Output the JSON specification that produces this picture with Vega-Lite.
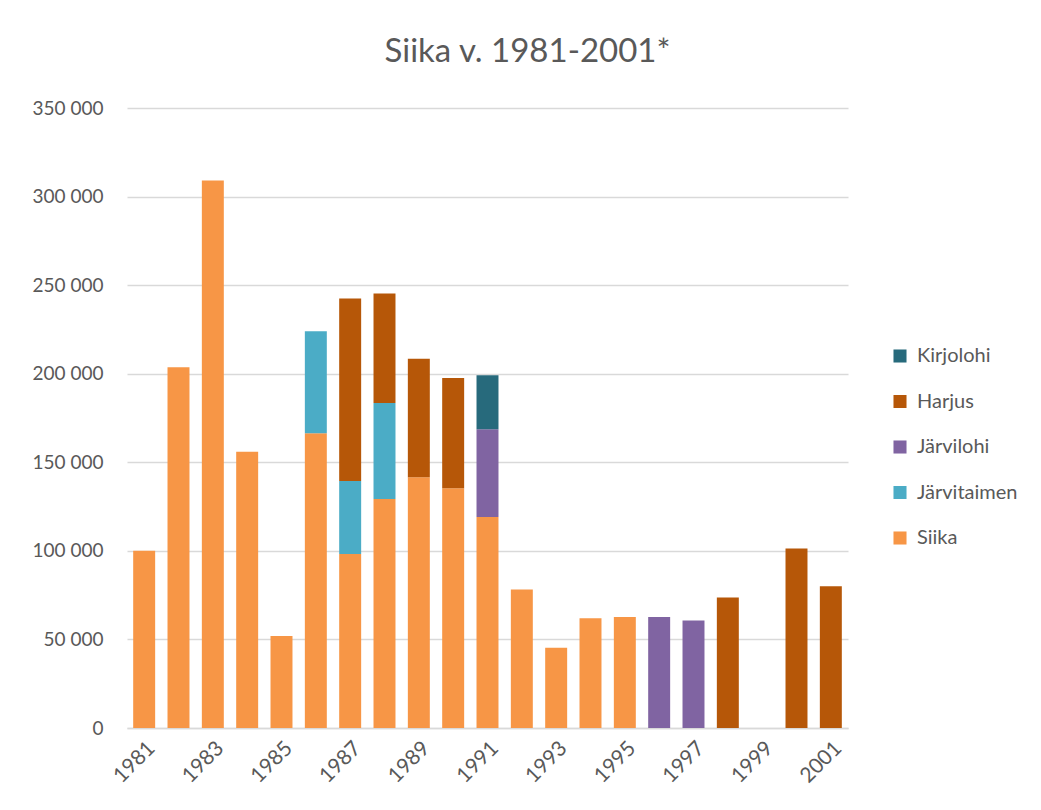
{
  "$schema": "https://vega.github.io/schema/vega-lite/v6.json",
  "autosize": {"type": "none"},
  "width": 721,
  "height": 620,
  "padding": {"left": 127, "top": 108, "right": 193, "bottom": 82},
  "background": "white",
  "config": {
    "locale": {"number": {"decimal": ",", "thousands": " ", "grouping": [3], "currency": ["", " €"]}},
    "font": "Lato",
    "view": {"stroke": null}
  },
  "title": {
    "text": "Siika v. 1981-2001*",
    "fontSize": 33,
    "fontWeight": "normal",
    "color": "#595959",
    "font": "Lato",
    "dx": 40,
    "offset": 30
  },
  "data": {
    "values": [
      {"vuosi": "1981", "laji": "Siika", "maara": 100000},
      {"vuosi": "1982", "laji": "Siika", "maara": 203700},
      {"vuosi": "1983", "laji": "Siika", "maara": 309100},
      {"vuosi": "1984", "laji": "Siika", "maara": 156000},
      {"vuosi": "1985", "laji": "Siika", "maara": 51900},
      {"vuosi": "1986", "laji": "Siika", "maara": 166400},
      {"vuosi": "1986", "laji": "Järvitaimen", "maara": 57600},
      {"vuosi": "1987", "laji": "Siika", "maara": 98200},
      {"vuosi": "1987", "laji": "Järvitaimen", "maara": 41200},
      {"vuosi": "1987", "laji": "Harjus", "maara": 103100},
      {"vuosi": "1988", "laji": "Siika", "maara": 129300},
      {"vuosi": "1988", "laji": "Järvitaimen", "maara": 54200},
      {"vuosi": "1988", "laji": "Harjus", "maara": 61800},
      {"vuosi": "1989", "laji": "Siika", "maara": 141500},
      {"vuosi": "1989", "laji": "Harjus", "maara": 66900},
      {"vuosi": "1990", "laji": "Siika", "maara": 135300},
      {"vuosi": "1990", "laji": "Harjus", "maara": 62300},
      {"vuosi": "1991", "laji": "Siika", "maara": 119100},
      {"vuosi": "1991", "laji": "Järvilohi", "maara": 49500},
      {"vuosi": "1991", "laji": "Kirjolohi", "maara": 30600},
      {"vuosi": "1992", "laji": "Siika", "maara": 78200},
      {"vuosi": "1993", "laji": "Siika", "maara": 45300},
      {"vuosi": "1994", "laji": "Siika", "maara": 61900},
      {"vuosi": "1995", "laji": "Siika", "maara": 62600},
      {"vuosi": "1996", "laji": "Järvilohi", "maara": 62600},
      {"vuosi": "1997", "laji": "Järvilohi", "maara": 60700},
      {"vuosi": "1998", "laji": "Harjus", "maara": 73700},
      {"vuosi": "1999", "laji": "Harjus", "maara": 0},
      {"vuosi": "2000", "laji": "Harjus", "maara": 101400},
      {"vuosi": "2001", "laji": "Harjus", "maara": 80000}
    ]
  },
  "transform": [
    {"calculate": "indexof(['Siika','Järvitaimen','Järvilohi','Harjus','Kirjolohi'], datum.laji)", "as": "jarjestys"}
  ],
  "mark": {"type": "bar"},
  "encoding": {
    "x": {
      "field": "vuosi",
      "type": "ordinal",
      "scale": {"paddingInner": 0.36, "paddingOuter": 0.18},
      "axis": {
        "title": null,
        "values": ["1981", "1983", "1985", "1987", "1989", "1991", "1993", "1995", "1997", "1999", "2001"],
        "labelAngle": -45,
        "labelFontSize": 21,
        "labelColor": "#595959",
        "labelPadding": 9,
        "ticks": false,
        "domainColor": "#D9D9D9",
        "domainWidth": 1.5,
        "grid": false
      }
    },
    "y": {
      "field": "maara",
      "type": "quantitative",
      "stack": "zero",
      "scale": {"domain": [0, 350000], "nice": false},
      "axis": {
        "title": null,
        "values": [0, 50000, 100000, 150000, 200000, 250000, 300000, 350000],
        "format": ",d",
        "labelFontSize": 19,
        "labelColor": "#595959",
        "labelPadding": 24,
        "ticks": false,
        "domain": false,
        "gridColor": "#D9D9D9",
        "gridWidth": 1.3
      }
    },
    "color": {
      "field": "laji",
      "type": "nominal",
      "scale": {
        "domain": ["Kirjolohi", "Harjus", "Järvilohi", "Järvitaimen", "Siika"],
        "range": ["#276A7C", "#B65708", "#8064A2", "#4BACC6", "#F79646"]
      },
      "legend": {
        "title": null,
        "orient": "none",
        "legendX": 763,
        "legendY": 238,
        "symbolType": "square",
        "symbolSize": 170,
        "symbolStrokeWidth": 0,
        "labelFontSize": 20,
        "labelColor": "#595959",
        "rowPadding": 25.5,
        "labelOffset": 7
      }
    },
    "order": {"field": "jarjestys", "type": "quantitative", "sort": "ascending"}
  }
}
